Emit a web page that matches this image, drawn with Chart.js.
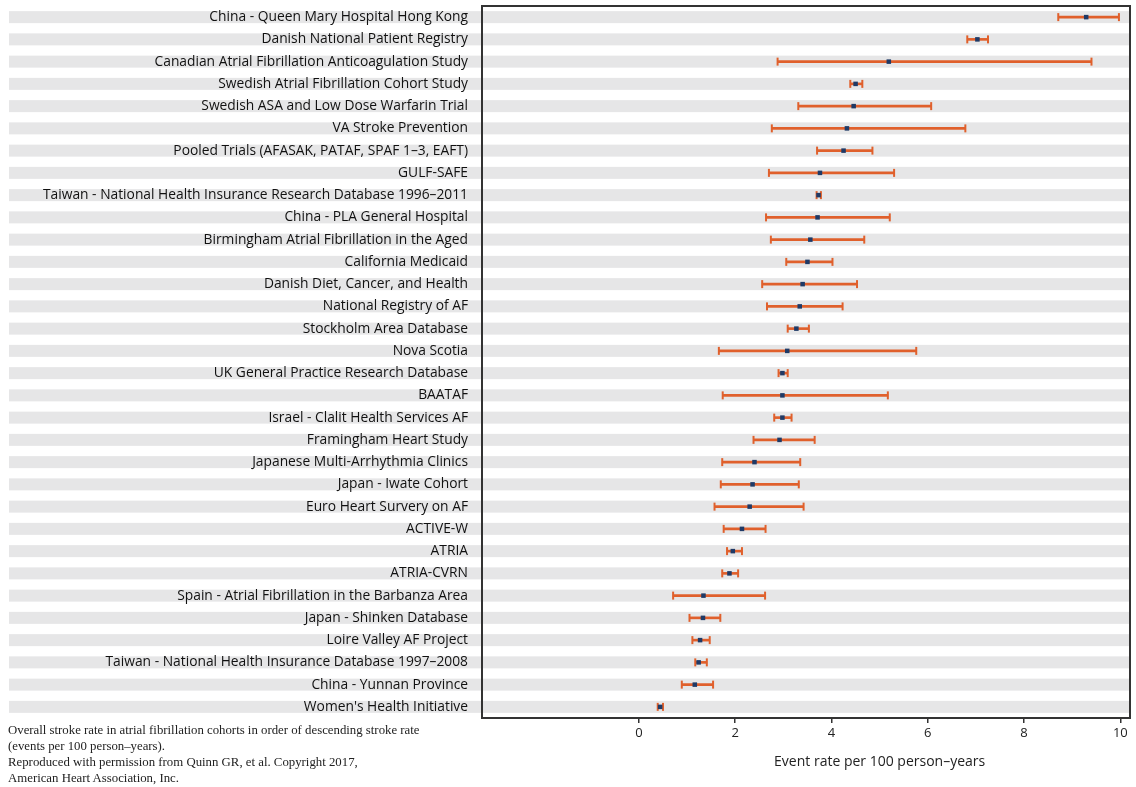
<!DOCTYPE html>
<html>
<head>
    <title>Tasa de ictus en cohortes de fibrilación auricular</title>
    <script src="https://cdn.jsdelivr.net/npm/chart.js@4.4.0/dist/chart.umd.min.js"></script>
    <style>
        body { margin: 0; background-color: white; }
        #marco { position: relative; width: 1136px; height: 787px; }
        #nota {
            position: absolute; left: 8px; top: 722px;
            font-family: 'Liberation Serif', serif; font-size: 12.8px; line-height: 16px; color: #222;
        }
    </style>
</head>
<body>
<div id="marco">
    <canvas id="grafica" width="1136" height="787"></canvas>
    <div id="nota">Overall stroke rate in atrial fibrillation cohorts in order of descending stroke rate<br>(events per 100 person–years).<br>Reproduced with permission from Quinn GR, et al. Copyright 2017,<br>American Heart Association, Inc.</div>
</div>
<script>
    // Cohortes, de arriba a abajo
    const estudios = [
        'China - Queen Mary Hospital Hong Kong',
        'Danish National Patient Registry',
        'Canadian Atrial Fibrillation Anticoagulation Study',
        'Swedish Atrial Fibrillation Cohort Study',
        'Swedish ASA and Low Dose Warfarin Trial',
        'VA Stroke Prevention',
        'Pooled Trials (AFASAK, PATAF, SPAF 1–3, EAFT)',
        'GULF-SAFE',
        'Taiwan - National Health Insurance Research Database 1996–2011',
        'China - PLA General Hospital',
        'Birmingham Atrial Fibrillation in the Aged',
        'California Medicaid',
        'Danish Diet, Cancer, and Health',
        'National Registry of AF',
        'Stockholm Area Database',
        'Nova Scotia',
        'UK General Practice Research Database',
        'BAATAF',
        'Israel - Clalit Health Services AF',
        'Framingham Heart Study',
        'Japanese Multi-Arrhythmia Clinics',
        'Japan - Iwate Cohort',
        'Euro Heart Survery on AF',
        'ACTIVE-W',
        'ATRIA',
        'ATRIA-CVRN',
        'Spain - Atrial Fibrillation in the Barbanza Area',
        'Japan - Shinken Database',
        'Loire Valley AF Project',
        'Taiwan - National Health Insurance Database 1997–2008',
        'China - Yunnan Province',
        "Women's Health Initiative"
    ];

    // Tasa de eventos por 100 personas-año
    const tasa = [9.29, 7.03, 5.19, 4.50, 4.46, 4.32, 4.25, 3.76,
                  3.73, 3.71, 3.56, 3.50, 3.40, 3.34, 3.27, 3.08,
                  2.98, 2.98, 2.98, 2.92, 2.40, 2.36, 2.30, 2.14,
                  1.95, 1.88, 1.34, 1.33, 1.27, 1.24, 1.16, 0.44];

    // Intervalo de confianza
    const limInf = [8.71, 6.82, 2.88, 4.39, 3.31, 2.76, 3.70, 2.70,
                    3.69, 2.64, 2.74, 3.06, 2.56, 2.66, 3.09, 1.66,
                    2.90, 1.74, 2.81, 2.38, 1.73, 1.70, 1.57, 1.76,
                    1.83, 1.73, 0.71, 1.05, 1.11, 1.17, 0.89, 0.39];
    const limSup = [9.97, 7.25, 9.40, 4.64, 6.07, 6.78, 4.85, 5.30,
                    3.78, 5.21, 4.68, 4.02, 4.53, 4.23, 3.53, 5.76,
                    3.09, 5.17, 3.17, 3.65, 3.35, 3.32, 3.42, 2.63,
                    2.14, 2.06, 2.62, 1.69, 1.47, 1.41, 1.54, 0.50];

    const marcas = [0, 2, 4, 6, 8, 10];

    const naranja = '#e0602c';
    const azul = '#1f3a66';
    const fuente = 'Open Sans';

    // Franjas grises, marco y titulo del eje
    const decoracion = {
        id: 'decoracion',
        beforeDraw(chart) {
            const { ctx, chartArea, scales } = chart;
            ctx.save();
            ctx.fillStyle = '#e6e6e7';
            estudios.forEach((_, i) => {
                const py = scales.y.getPixelForValue(i);
                ctx.fillRect(9, py - 6, chartArea.right - 9, 12);
            });
            ctx.restore();
        },
        afterDraw(chart) {
            const { ctx, chartArea, scales } = chart;
            ctx.save();
            ctx.strokeStyle = '#333';
            ctx.lineWidth = 2;
            ctx.strokeRect(chartArea.left, chartArea.top, chartArea.right - chartArea.left, chartArea.bottom - chartArea.top);
            ctx.fillStyle = '#222';
            ctx.font = '14px "' + fuente + '"';
            ctx.textAlign = 'center';
            ctx.textBaseline = 'middle';
            ctx.fillText('Event rate per 100 person–years', scales.x.getPixelForValue(5), 762);
            ctx.restore();
        }
    };

    const ctx = document.getElementById('grafica').getContext('2d');

    new Chart(ctx, {
        type: 'bar',
        data: {
            labels: estudios,
            datasets: [
                {
                    type: 'line',
                    indexAxis: 'y',
                    data: tasa,
                    showLine: false,
                    pointStyle: 'rect',
                    pointRadius: 3.2,
                    pointBackgroundColor: azul,
                    pointBorderWidth: 0,
                    order: 0
                },
                {
                    type: 'line',
                    indexAxis: 'y',
                    data: limInf,
                    showLine: false,
                    pointStyle: 'line',
                    rotation: 90,
                    pointRadius: 4,
                    pointBorderWidth: 2,
                    pointBorderColor: naranja,
                    order: 1
                },
                {
                    type: 'line',
                    indexAxis: 'y',
                    data: limSup,
                    showLine: false,
                    pointStyle: 'line',
                    rotation: 90,
                    pointRadius: 4,
                    pointBorderWidth: 2,
                    pointBorderColor: naranja,
                    order: 1
                },
                {
                    type: 'bar',
                    data: estudios.map((_, i) => [limInf[i], limSup[i]]),
                    backgroundColor: naranja,
                    barThickness: 2,
                    order: 2
                }
            ]
        },
        options: {
            indexAxis: 'y',
            responsive: false,
            animation: false,
            layout: { padding: { top: 1, right: 5, left: 0, bottom: 0 } },
            scales: {
                x: {
                    type: 'linear',
                    min: -3.26,
                    max: 10.2,
                    afterBuildTicks: (s) => { s.ticks = marcas.map(v => ({ value: v })); },
                    afterFit: (s) => { s.height = 69; },
                    grid: { drawOnChartArea: false, drawTicks: true, tickLength: 5, color: '#333', lineWidth: 1.5 },
                    border: { display: false },
                    ticks: { font: { family: fuente, size: 13 }, color: '#222', padding: 2 }
                },
                y: {
                    type: 'category',
                    afterFit: (s) => { s.width = 482; s.paddingTop = 0; s.paddingBottom = 0; },
                    grid: { display: false, drawTicks: false },
                    border: { display: false },
                    ticks: { font: { family: fuente, size: 13.8 }, color: '#111', padding: 14, autoSkip: false }
                }
            },
            plugins: {
                legend: { display: false },
                tooltip: { enabled: false }
            }
        },
        plugins: [decoracion]
    });
</script>
</body>
</html>
